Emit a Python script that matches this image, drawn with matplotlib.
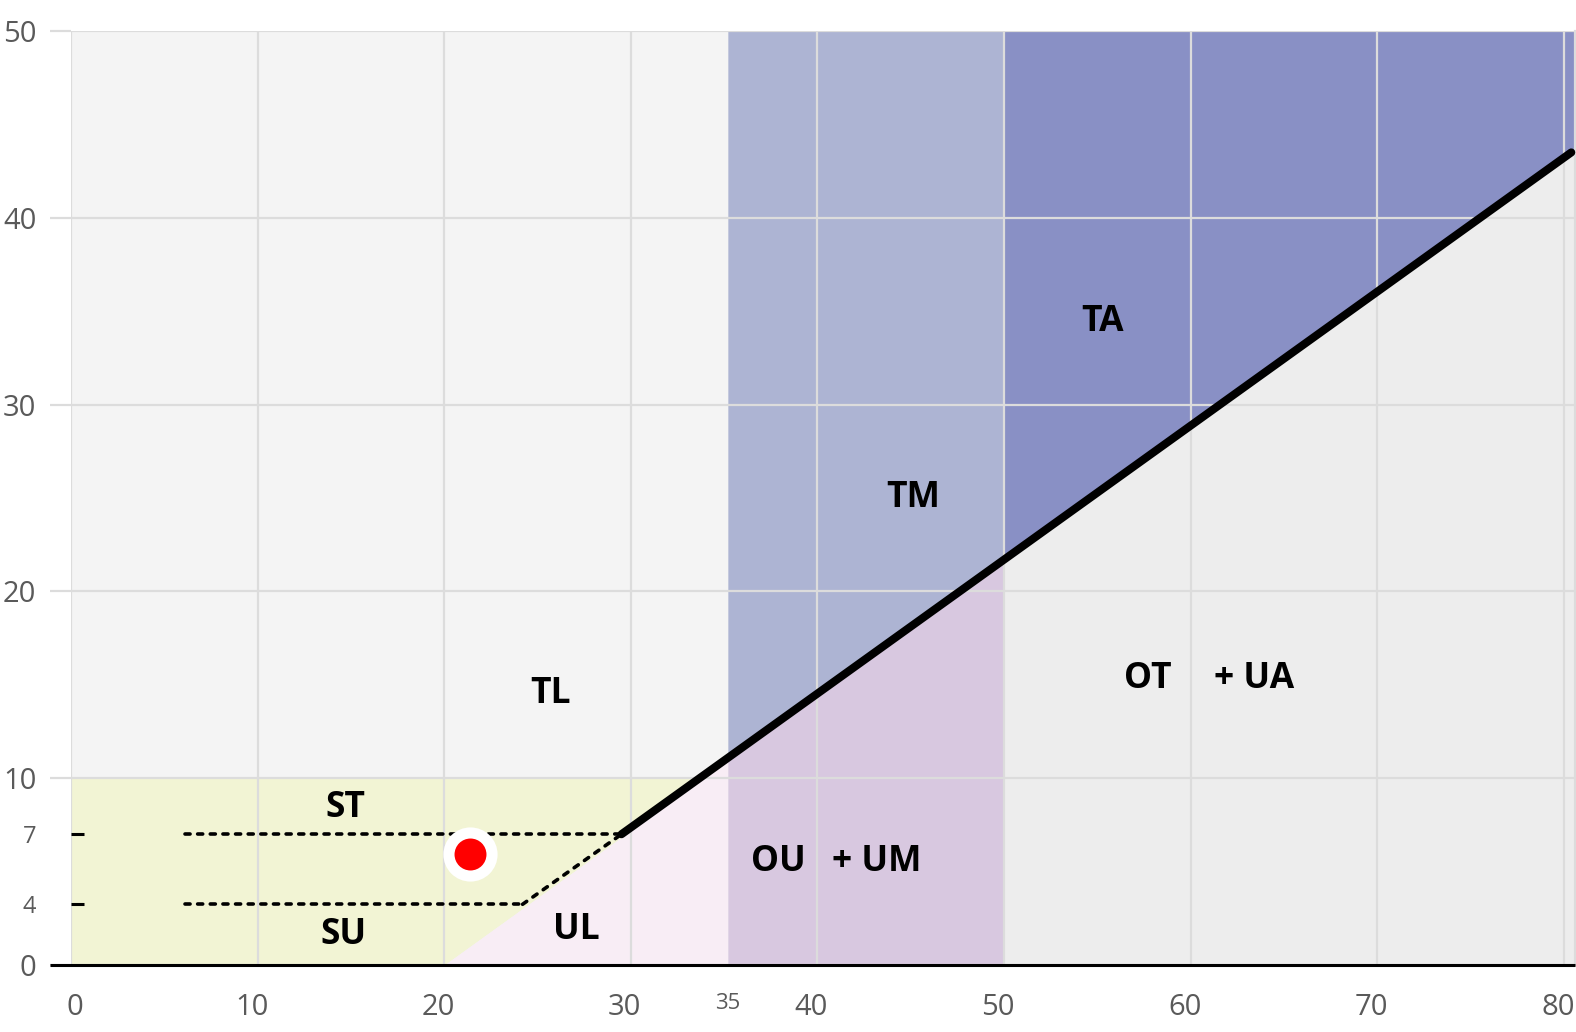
import numpy as np
import matplotlib
matplotlib.use("Agg")
import matplotlib.pyplot as plt
from matplotlib.transforms import blended_transform_factory, ScaledTranslation

plt.rcParams['font.family'] = ['Open Sans', 'DejaVu Sans']

# ---- data -------------------------------------------------------------
x_ticks = [0, 10, 20, 30, 40, 50, 60, 70, 80]
y_ticks = [0, 10, 20, 30, 40, 50]
x_extra_ticks = [35.2]
x_extra_labels = ["35"]
y_extra_ticks = [7, 3.25]
y_extra_labels = ["7", "4"]

diag_x = [20, 80.6]          # threshold diagonal (zone boundary)
diag_y = [0, 43.6]
zone_edges = [35.2, 50]      # vertical zone boundaries
x_max = 80.6
y_max = 50
low_band_top = 10

guide_levels = [7, 3.25]     # dashed horizontal guides
guide_start = 6.1
guide_ends = [29.5, 24.2]
curve_x = [24.2, 29.5, 80.4]  # dashed then solid curve
curve_y = [3.25, 7.0, 43.5]

point_x = [21.4]
point_y = [5.95]

zone_labels = ["TA", "TM", "TL", "ST", "SU", "UL", "OU", "+ UM", "OT", "+ UA"]
zone_label_x = [55.3, 45.15, 25.7, 14.7, 14.6, 27.1, 37.9, 43.2, 57.7, 63.4]
zone_label_y = [34.4, 25.0, 14.5, 8.4, 1.6, 1.9, 5.5, 5.5, 15.3, 15.3]

# ---- figure -----------------------------------------------------------
W, H = 1576, 1032
fig = plt.figure(figsize=(W / 100, H / 100), dpi=100)
left, right = 71 / W, 1575 / W
bottom, top = (H - 965) / H, (H - 31) / H
ax = fig.add_axes([left, bottom, right - left, top - bottom])
ax.set_xlim(0, x_max)
ax.set_ylim(0, y_max)
ax.set_facecolor("#f4f4f4")

def diag(x):
    return np.interp(x, diag_x, diag_y)

# yellow low band (above diagonal, below 10)
xs = np.linspace(0, zone_edges[0], 800)
ax.fill_between(xs, np.minimum(diag(xs), low_band_top), low_band_top,
                color="#f2f4d4", lw=0, zorder=0.1)
# pink triangle below diagonal
xs = np.linspace(diag_x[0], zone_edges[0], 50)
ax.fill_between(xs, 0, diag(xs), color="#f8edf5", lw=0, zorder=0.1)
# middle zone
xs = np.linspace(zone_edges[0], zone_edges[1], 50)
ax.fill_between(xs, diag(xs), y_max, color="#adb4d3", lw=0, zorder=0.1)
ax.fill_between(xs, 0, diag(xs), color="#d8c8e0", lw=0, zorder=0.1)
# right zone
xs = np.linspace(zone_edges[1], x_max, 50)
ax.fill_between(xs, diag(xs), y_max, color="#8990c5", lw=0, zorder=0.1)
ax.fill_between(xs, 0, diag(xs), color="#ededed", lw=0, zorder=0.1)

# grid
ax.set_axisbelow(True)
ax.grid(True, which="major", color="#dcdcdc", lw=1.6)

# spines
for s in ["left", "top"]:
    ax.spines[s].set_visible(False)
ax.spines["right"].set_color("#dcdcdc")
ax.spines["right"].set_linewidth(1.6)
ax.spines["bottom"].set_visible(False)

# x axis line extending left past the axes
trans = blended_transform_factory(ax.transAxes, ax.transData)
ax.plot([-21 / 1504, 1], [0, 0], transform=trans, color="black", lw=2.2,
        clip_on=False, zorder=5, solid_capstyle="butt")

# ticks
ax.set_xticks(x_ticks)
ax.set_xticklabels([str(v) for v in x_ticks])
ax.set_xticks(x_extra_ticks, minor=True)
ax.set_xticklabels(x_extra_labels, minor=True)
ax.tick_params(axis="x", which="both", length=0, pad=20, labelcolor="#5a5a5a")
ax.tick_params(axis="x", which="major", labelsize=21)
ax.tick_params(axis="x", which="minor", labelsize=16)
for i, lab in enumerate(ax.get_xticklabels()):
    dx = 4 / 100 if i == 0 else -6 / 100
    lab.set_transform(lab.get_transform() + ScaledTranslation(dx, 0, fig.dpi_scale_trans))

ax.set_yticks(y_ticks)
ax.set_yticklabels([str(v) for v in y_ticks])
ax.set_yticks(y_extra_ticks, minor=True)
ax.set_yticklabels(y_extra_labels, minor=True)
ax.tick_params(axis="y", which="major", length=15, width=1.6, color="#dcdcdc",
               pad=10, labelsize=21, labelcolor="#5a5a5a")
ax.tick_params(axis="y", which="minor", direction="in", length=9, width=2.2,
               color="black", pad=25, labelsize=17, labelcolor="#5a5a5a")

# dashed guides
dash_kw = dict(color="black", lw=2.6, dashes=(1.4, 2.1), dash_capstyle="round", zorder=4)
for lvl, xe in zip(guide_levels, guide_ends):
    ax.plot([guide_start, xe], [lvl, lvl], **dash_kw)
ax.plot(curve_x[:2], curve_y[:2], **dash_kw)
ax.plot(curve_x[1:], curve_y[1:], color="black", lw=5.8, solid_capstyle="round",
        zorder=4, clip_on=False)

# point
ax.plot(point_x, point_y, "o", ms=39, color="white", mec="none", zorder=6)
ax.plot(point_x, point_y, "o", ms=23, color="#ff0000", mec="none", zorder=7)

# zone labels
for t, x, y in zip(zone_labels, zone_label_x, zone_label_y):
    ax.text(x, y, t, ha="center", va="center", fontsize=25.5, fontweight="bold",
            color="black", zorder=8)

fig.savefig("out.png", dpi=100)
